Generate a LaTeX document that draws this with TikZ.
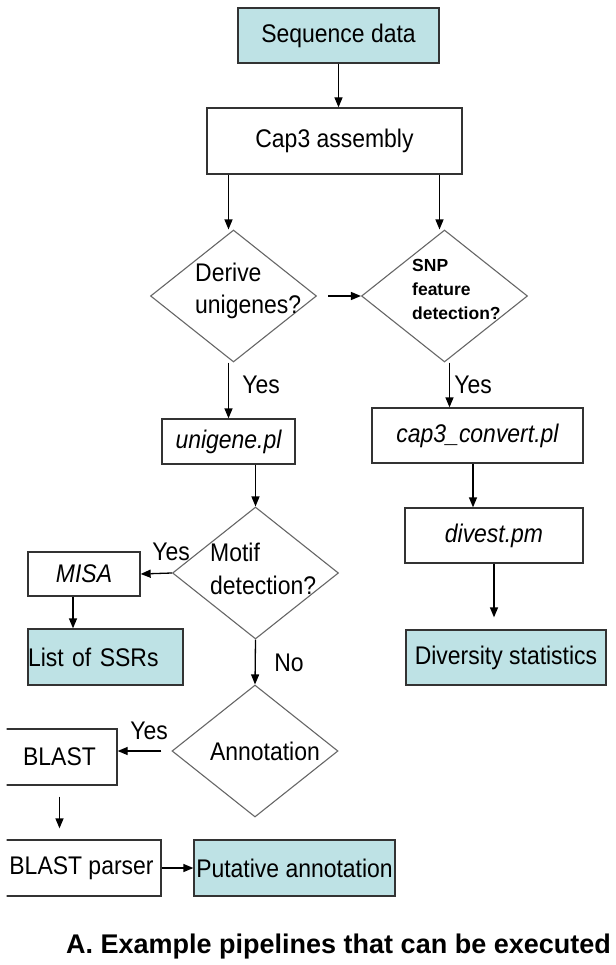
\documentclass[tikz,border=0pt]{standalone}
\usepackage{fontspec}
\setmainfont[FakeStretch=0.9]{Liberation Sans}
\newfontfamily\plainsans{Liberation Sans}
\usepackage{tikz}
\usetikzlibrary{shapes.geometric,arrows.meta}
\definecolor{outfill}{RGB}{190,226,229}

\begin{document}
\begin{tikzpicture}[x=1pt,y=-1pt] \tikzstyle{flow}=[-{Triangle[length=10pt,width=8pt]},line width=1.3pt]
\tikzstyle{box}=[draw=black!80,line width=1.3pt,inner sep=0pt,font=\fontsize{25.5}{28}\selectfont]
\tikzstyle{outbox}=[box,fill=outfill]
\tikzstyle{decision}=[diamond,draw=black!60,line width=1.1pt,inner sep=0pt,minimum width=166pt,minimum height=132pt]
\tikzstyle{txt}=[inner sep=0pt,font=\fontsize{25.5}{28}\selectfont]
    \useasboundingbox (0,0) rectangle (615,965);
    \begin{scope}
    \clip (6.5,0) rectangle (615,965);
    \node[outbox,minimum width=201pt,minimum height=55pt] (seq) at (338.5,35.5) {Sequence data};
    \node[box,minimum width=255pt,minimum height=66pt] (cap) at (334.5,141) {Cap3 assembly};
    \node[decision] (derive) at (233.5,296) {};
    \node[decision] (snp) at (444.5,296) {};
    \node[txt,align=left,anchor=west,font=\fontsize{25.5}{32}\selectfont] (derivetxt) at (195,291) {Derive\\unigenes?};
    \node[txt,align=left,anchor=west,font=\plainsans\fontsize{17.5}{24}\selectfont\bfseries] (snptxt) at (412,289) {SNP\\feature\\detection?};
    \node[box,minimum width=133pt,minimum height=45pt] (unigene) at (228.5,441.5) {\itshape unigene.pl};
    \node[box,minimum width=211pt,minimum height=55pt] (cap3conv) at (477.5,435.5) {\itshape cap3\_convert.pl};
    \node[decision] (motif) at (255.5,573) {};
    \node[txt,align=left,anchor=west,font=\fontsize{25.5}{33}\selectfont] (motiftxt) at (210,568.5) {Motif\\detection?};
    \node[box,minimum width=178pt,minimum height=55pt] (divest) at (494,535.5) {\itshape divest.pm};
    \node[box,minimum width=112pt,minimum height=44pt] (misa) at (84,574) {\itshape MISA};
    \node[outbox,minimum width=155pt,minimum height=56pt,text width=155pt,align=left] (ssr) at (105.5,657) {List of SSRs};
    \node[outbox,minimum width=200pt,minimum height=55pt] (diversity) at (506,657.5) {Diversity statistics};
    \node[decision] (annot) at (255,751) {};
    \node[txt] (annottxt) at (265,751) {Annotation};
    \node[box,minimum width=115pt,minimum height=56pt] (blast) at (59.5,757) {BLAST};
    \node[box,minimum width=159pt,minimum height=56pt] (parser) at (81.5,868) {BLAST parser};
    \node[outbox,minimum width=201pt,minimum height=56pt] (putative) at (294.5,868) {Putative annotation};
    \node[txt] (yes1) at (261,385) {Yes};
    \node[txt] (yes2) at (473,385) {Yes};
    \node[txt] (yes3) at (171,552) {Yes};
    \node[txt] (no1) at (289,663) {No};
    \node[txt] (yes4) at (149,731) {Yes};
    \node[txt,font=\plainsans\fontsize{27}{30}\selectfont\bfseries] (caption) at (338.5,947) {A. Example pipelines that can be executed};
    \coordinate (dtop) at ([xshift=-5pt]derive.north);
    \coordinate (stop) at ([xshift=-5pt]snp.north);
    \coordinate (sbot) at ([xshift=5pt]snp.south);
    \coordinate (cbot) at ([xshift=-4.5pt]cap3conv.south);
    \coordinate (mbot) at ([xshift=-11pt]misa.south);
    \draw[flow] (seq.south) -- (seq.south |- cap.north);
    \draw[flow] (dtop |- cap.south) -- (dtop);
    \draw[flow] (stop |- cap.south) -- (stop);
    \draw[flow,shorten <=11pt] (derive.east) -- (snp.west);
    \draw[flow] (unigene.north |- derive.south) -- (unigene.north);
    \draw[flow] (sbot) -- (sbot |- cap3conv.north);
    \draw[flow] (motif.north |- unigene.south) -- (motif.north);
    \draw[flow] (cbot) -- (cbot |- divest.north);
    \draw[flow,shorten >=12pt] (divest.south) -- (divest.south |- diversity.north);
    \draw[flow] (motif.west) -- (misa.east);
    \draw[flow] (mbot) -- (mbot |- ssr.north);
    \draw[flow] (motif.south) -- (annot.north);
    \draw[flow,shorten <=10pt] (annot.west) -- (annot.west -| blast.east);
    \draw[flow,shorten <=11pt,shorten >=11pt] (blast.south) -- (blast.south |- parser.north);
    \draw[flow] (parser.east) -- (putative.west);
    \end{scope}
\end{tikzpicture}
\end{document}
